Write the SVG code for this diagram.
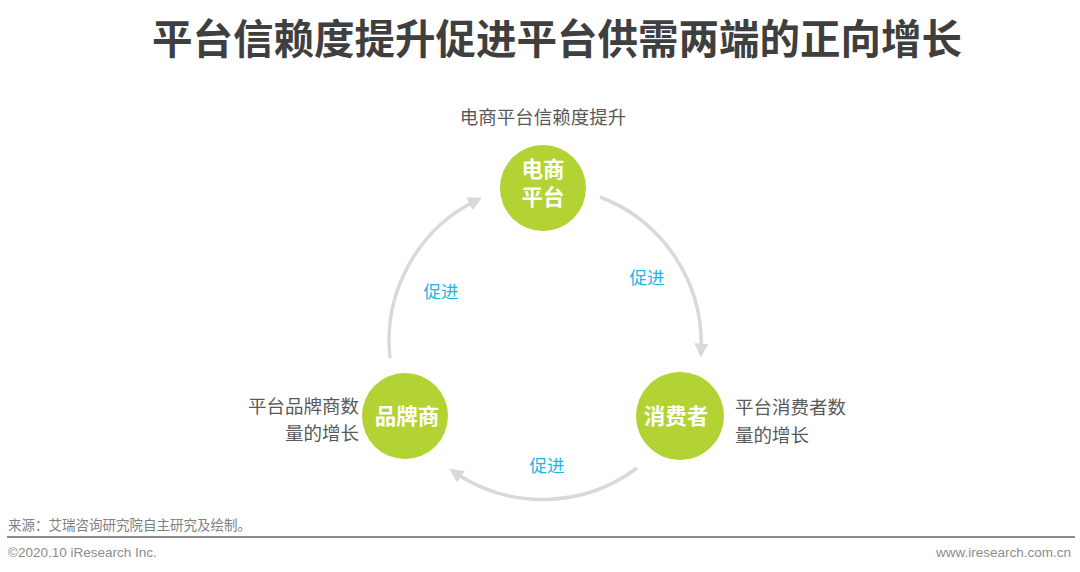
<svg xmlns="http://www.w3.org/2000/svg" width="1080" height="572" viewBox="0 0 1080 572">
<defs>
<marker id="ah" viewBox="0 0 10 10" refX="6" refY="5" markerWidth="4" markerHeight="4" orient="auto" markerUnits="strokeWidth">
<path d="M0,0 L10,5 L0,10 Z" fill="#d9d9d9"/>
</marker>
<style>
.cjk{font-family:"Noto Sans CJK SC","Noto Sans",sans-serif}
.title{font-size:40.5px;font-weight:bold;fill:#3f3f3f}
.node{fill:#b3d234}
.nl{font-size:21.5px;font-weight:bold;fill:#ffffff}
.side{font-size:18.5px;fill:#595959}
.lbl{font-size:17.5px;fill:#1fb4ea}
.arc{fill:none;stroke:#d9d9d9;stroke-width:3.5;marker-end:url(#ah)}
.foot{font-family:"Liberation Sans",Arial,sans-serif;font-size:13.5px;fill:#8c8c8c}
</style>
</defs>
<rect width="1080" height="572" fill="#ffffff"/>
<text class="cjk title" x="557" y="54" text-anchor="middle">平台信赖度提升促进平台供需两端的正向增长</text>
<text class="cjk side" x="543" y="124" text-anchor="middle">电商平台信赖度提升</text>
<g id="connectors">
<path class="arc" d="M600,197 A157,157 0 0 1 701,352"/>
<path class="arc" d="M637,468 A157,157 0 0 1 454,472"/>
<path class="arc" d="M390,358 A157,157 0 0 1 477,200"/>
<text class="cjk lbl" x="647" y="284" text-anchor="middle">促进</text>
<text class="cjk lbl" x="441" y="298" text-anchor="middle">促进</text>
<text class="cjk lbl" x="547" y="472" text-anchor="middle">促进</text>
</g>
<g id="node-platform">
<circle class="node" cx="543" cy="188" r="43"/>
<text class="cjk nl" x="543" y="177" text-anchor="middle">电商</text>
<text class="cjk nl" x="543" y="205" text-anchor="middle">平台</text>
</g>
<g id="node-brand">
<circle class="node" cx="405" cy="416" r="43"/>
<text class="cjk nl" x="407" y="424" text-anchor="middle">品牌商</text>
<text class="cjk side" x="359" y="413" text-anchor="end">平台品牌商数</text>
<text class="cjk side" x="359" y="440" text-anchor="end">量的增长</text>
</g>
<g id="node-consumer">
<circle class="node" cx="680" cy="416" r="44"/>
<text class="cjk nl" x="676" y="424" text-anchor="middle">消费者</text>
<text class="cjk side" x="735" y="414" text-anchor="start">平台消费者数</text>
<text class="cjk side" x="735" y="442" text-anchor="start">量的增长</text>
</g>
<text class="cjk" x="8" y="530" font-size="13.5" fill="#808080">来源：艾瑞咨询研究院自主研究及绘制。</text>
<line x1="7" y1="537" x2="1075" y2="537" stroke="#8c8c8c" stroke-width="2"/>
<text class="foot" x="8" y="557">©2020.10 iResearch Inc.</text>
<text class="foot" x="1071" y="557" text-anchor="end">www.iresearch.com.cn</text>
</svg>
